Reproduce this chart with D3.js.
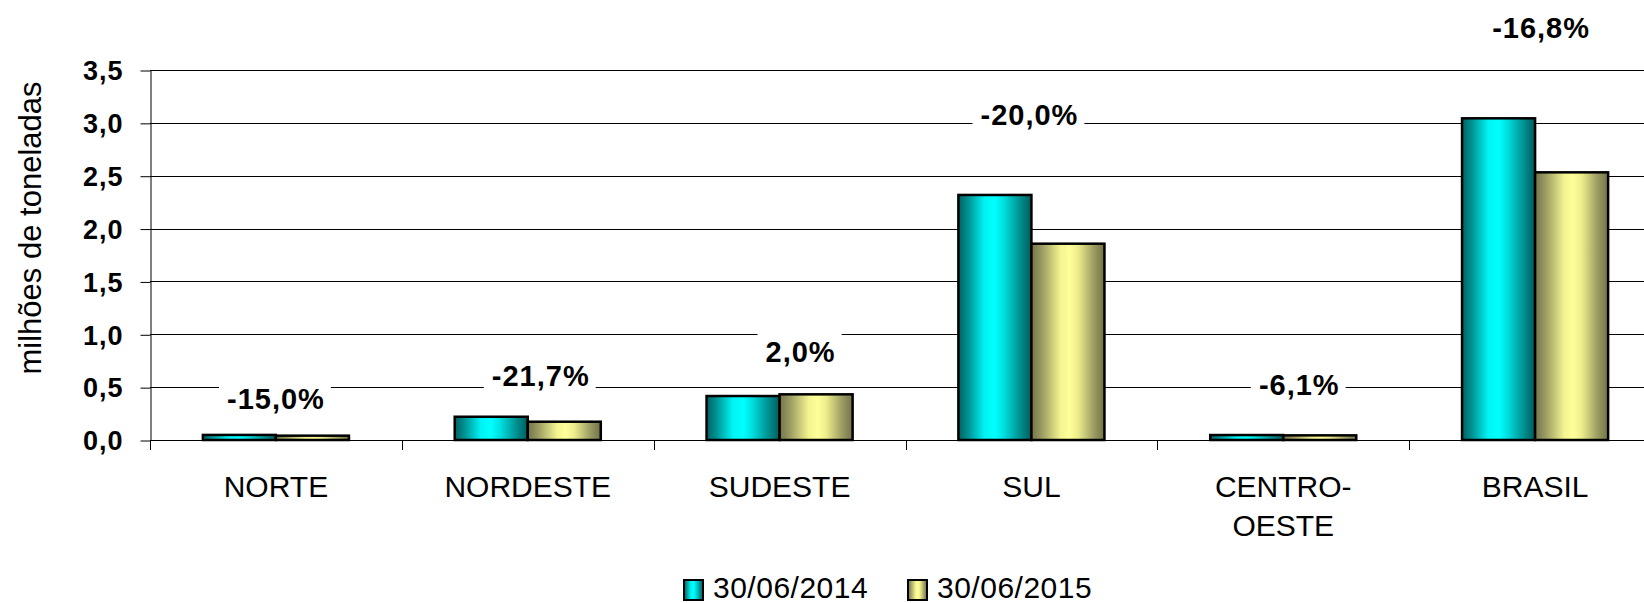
<!DOCTYPE html>
<html>
<head>
<meta charset="utf-8">
<script src="https://cdn.jsdelivr.net/npm/d3@7/dist/d3.min.js"></script>
<style>
  body { margin: 0; background: #fff; }
  text { font-family: "Liberation Sans", Arial, sans-serif; fill: #000; }
</style>
</head>
<body>
<div class="chart"></div>
<script>
// data
var categories = ["NORTE", "NORDESTE", "SUDESTE", "SUL", "CENTRO-OESTE", "BRASIL"];
var seriesNames = ["30/06/2014", "30/06/2015"];
var values2014 = [0.048, 0.22, 0.416, 2.318, 0.047, 3.043];
var values2015 = [0.041, 0.173, 0.432, 1.857, 0.044, 2.532];
var pctLabels = ["-15,0%", "-21,7%", "2,0%", "-20,0%", "-6,1%", "-16,8%"];
var yTicks = [0, 0.5, 1, 1.5, 2, 2.5, 3, 3.5];
var yTitle = "milhões de toneladas";

// layout of the hand placed % labels (px above taller bar, px offset from centre)
var labelLift = [26, 31, 32, 70, 40, 80];
var labelDx = [0, 13, 21, -2, 16, 6];

var svgWidth = 1644;
var svgHeight = 603;
var margin = { top: 70, left: 150 };
var height = 370;
var width = 1511; // runs past the right edge, like the original

var svg = d3.select(".chart")
  .append("svg")
  .attr("width", svgWidth)
  .attr("height", svgHeight);

var defs = svg.append("defs");
function gradient(id, stops) {
  var g = defs.append("linearGradient").attr("id", id)
    .attr("x1", 0).attr("x2", 1).attr("y1", 0).attr("y2", 0);
  stops.forEach(function(s) {
    g.append("stop").attr("offset", s[0]).attr("stop-color", s[1]);
  });
}
gradient("teal", [[0, "#006262"], [0.12, "#008c8c"], [0.36, "#00f4f4"], [0.5, "#00ffff"], [0.62, "#00e0e0"], [0.85, "#008e8e"], [1, "#005c5c"]]);
gradient("olive", [[0, "#74744a"], [0.14, "#9a9a62"], [0.4, "#f4f490"], [0.52, "#ffff99"], [0.64, "#ecec8c"], [0.86, "#9a9a62"], [1, "#727248"]]);
var fills = ["url(#teal)", "url(#olive)"];

var chartGroup = svg.append("g")
  .attr("transform", `translate(${margin.left}, ${margin.top})`);

// scales
var x0 = d3.scaleBand().domain(categories).range([0, width]);
var groupW = x0.bandwidth() * 0.58;
var x1 = d3.scaleBand().domain(seriesNames).range([0, groupW]);
var y = d3.scaleLinear().domain([0, 3.5]).range([height, 0]);

// gridlines
chartGroup.append("g")
  .selectAll("line")
  .data(yTicks)
  .enter()
  .append("line")
  .attr("x1", 0)
  .attr("x2", width)
  .attr("y1", d => Math.round(y(d)) + 0.5)
  .attr("y2", d => Math.round(y(d)) + 0.5)
  .attr("stroke", "#000")
  .attr("stroke-width", 1);

// y axis
var leftAxis = d3.axisLeft(y)
  .tickValues(yTicks)
  .tickFormat(d => d3.format(".1f")(d).replace(".", ","))
  .tickSize(10)
  .tickSizeOuter(0)
  .tickPadding(17);

var yAxisG = chartGroup.append("g")
  .attr("transform", "translate(0.5, 0)")
  .call(leftAxis);
yAxisG.select(".domain").attr("stroke", "#000");
yAxisG.selectAll(".tick line").attr("stroke", "#000")
  .attr("transform", "translate(0, 0.5)");
yAxisG.selectAll(".tick text")
  .attr("font-size", "27px")
  .attr("font-weight", "bold")
  .attr("letter-spacing", "1px")
  .attr("font-family", "Liberation Sans, Arial, sans-serif")
  .attr("dy", "0.36em");

// category boundary ticks
chartGroup.append("g")
  .selectAll("line")
  .data(d3.range(categories.length + 1))
  .enter()
  .append("line")
  .attr("x1", i => Math.round(i * x0.step()) + 0.5)
  .attr("x2", i => Math.round(i * x0.step()) + 0.5)
  .attr("y1", height)
  .attr("y2", height + 10)
  .attr("stroke", "#000");

// category labels
var catText = chartGroup.append("g")
  .selectAll("text")
  .data(categories)
  .enter()
  .append("text")
  .attr("text-anchor", "middle")
  .attr("font-size", "30px")
  .attr("transform", d => `translate(${x0(d) + x0.bandwidth() / 2}, ${height + 57})`);
catText.selectAll("tspan")
  .data(d => d.split(/(?<=-)/))
  .enter()
  .append("tspan")
  .attr("x", 0)
  .attr("dy", (d, i) => i === 0 ? 0 : 39)
  .text(d => d);

// bars
var rows = categories.map(function(c, i) {
  return { cat: c, vals: [values2014[i], values2015[i]] };
});

var groups = chartGroup.append("g")
  .selectAll("g")
  .data(rows)
  .enter()
  .append("g")
  .attr("transform", d => `translate(${x0(d.cat) + (x0.bandwidth() - groupW) / 2}, 0)`);

groups.selectAll("rect")
  .data(d => d.vals.map((v, k) => ({ s: seriesNames[k], v: v, k: k })))
  .enter()
  .append("rect")
  .attr("x", d => x1(d.s))
  .attr("y", d => y(d.v))
  .attr("width", x1.bandwidth())
  .attr("height", d => height - y(d.v))
  .attr("fill", d => fills[d.k])
  .attr("stroke", "#000")
  .attr("stroke-width", 2.5);

// % change labels with white boxes that break the gridlines
var labels = chartGroup.append("g")
  .selectAll("g")
  .data(rows)
  .enter()
  .append("g")
  .attr("transform", function(d, i) {
    var cx = x0(d.cat) + x0.bandwidth() / 2 + labelDx[i];
    var cy = y(d3.max(d.vals)) - labelLift[i];
    return `translate(${cx}, ${cy})`;
  });

labels.append("rect")
  .attr("fill", "#fff");

labels.append("text")
  .attr("text-anchor", "middle")
  .attr("font-size", "29px")
  .attr("font-weight", "bold")
  .attr("letter-spacing", "1px")
  .text((d, i) => pctLabels[i]);

labels.each(function() {
  var g = d3.select(this);
  var b = g.select("text").node().getBBox();
  g.select("rect")
    .attr("x", b.x - 8)
    .attr("y", -31)
    .attr("width", b.width + 14)
    .attr("height", 39);
});

// y axis title
svg.append("text")
  .attr("transform", "translate(41, 228) rotate(-90)")
  .attr("text-anchor", "middle")
  .attr("font-size", "31px")
  .text(yTitle);

// legend
var legendX = [684, 908];
var legend = svg.append("g")
  .selectAll("g")
  .data(seriesNames)
  .enter()
  .append("g")
  .attr("transform", (d, i) => `translate(${legendX[i]}, 580)`);

legend.append("rect")
  .attr("width", 19)
  .attr("height", 20)
  .attr("fill", (d, i) => fills[i])
  .attr("stroke", "#000")
  .attr("stroke-width", 2);

legend.append("text")
  .attr("x", 29)
  .attr("y", 18)
  .attr("font-size", "30px")
  .attr("letter-spacing", "0.5px")
  .text(d => d);
</script>
</body>
</html>
